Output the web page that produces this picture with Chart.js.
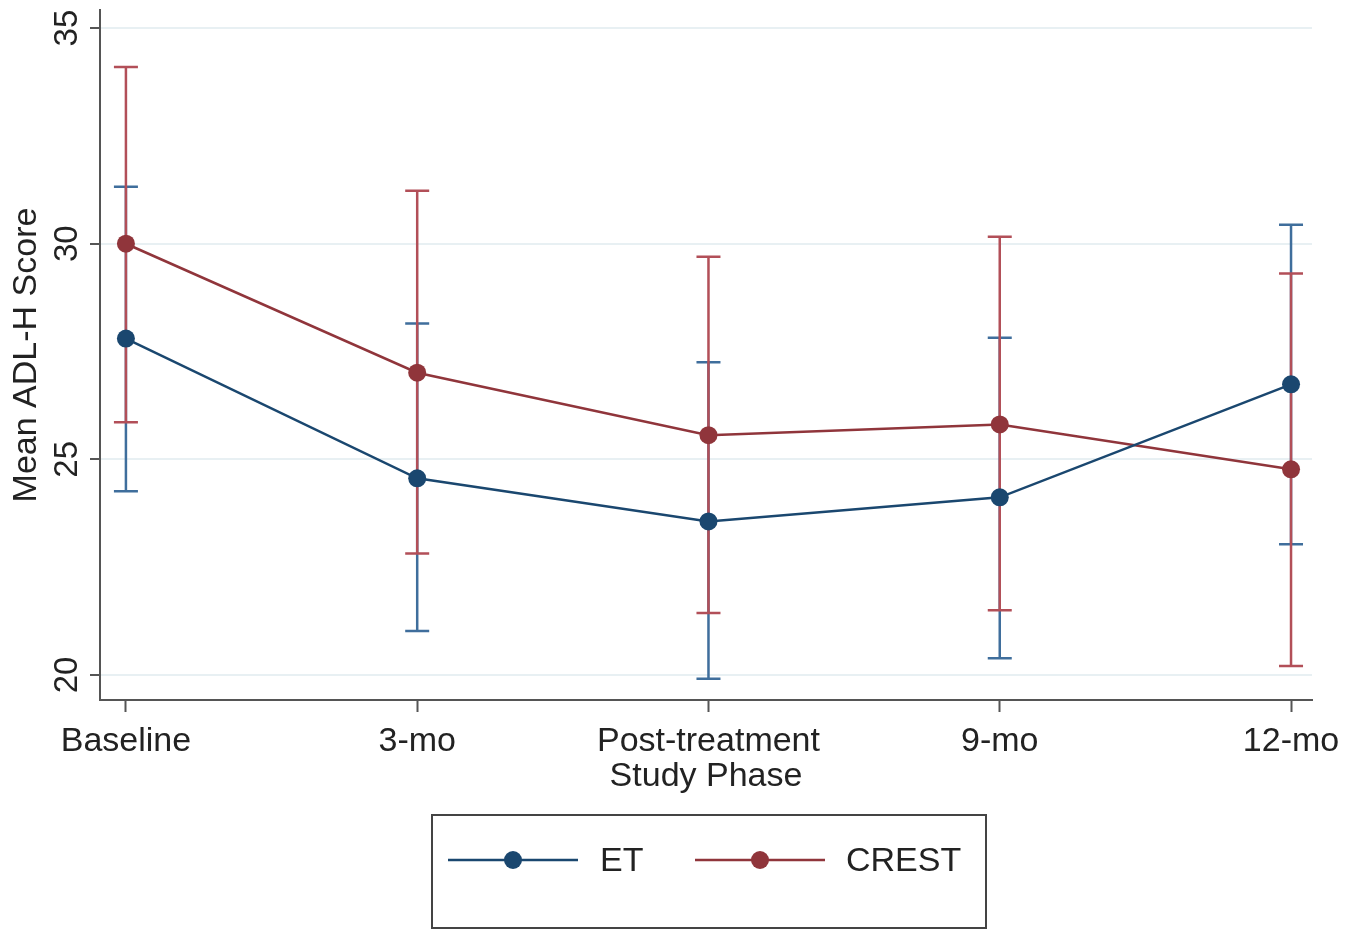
<!DOCTYPE html>
<html>
<head>
<meta charset="utf-8">
<script src="https://cdn.jsdelivr.net/npm/chart.js@4"></script>
<style>
  html, body { margin: 0; padding: 0; background: #fff; }
  #wrap { width: 1362px; height: 931px; }
</style>
</head>
<body>
<div id="wrap"><canvas id="chart" width="1362" height="931"></canvas></div>
<script>
// dados
const fases = ["Baseline", "3-mo", "Post-treatment", "9-mo", "12-mo"];
const yTicks = [20, 25, 30, 35];

const etMean = [27.8, 24.56, 23.56, 24.12, 26.74];
const etLow  = [24.26, 21.02, 19.91, 20.39, 23.03];
const etHigh = [31.32, 28.15, 27.25, 27.82, 30.44];

const crMean = [30.0, 27.01, 25.56, 25.81, 24.77];
const crLow  = [25.86, 22.82, 21.44, 21.5, 20.21];
const crHigh = [34.1, 31.23, 29.7, 30.16, 29.31];

const NAVY = "#1a476f", NAVY_BAR = "#3f6e9c";
const MAROON = "#90353b", MAROON_BAR = "#b24f58";
const FONT = "'Liberation Sans', Arial, sans-serif";

function pts(arr) { return arr.map((v, i) => ({ x: i, y: v })); }

// barras de erro (rcap)
const errorBars = {
  id: "errorBars",
  beforeDatasetsDraw(chart) {
    const { ctx, scales: { x, y } } = chart;
    const sets = [[etLow, etHigh, NAVY_BAR], [crLow, crHigh, MAROON_BAR]];
    ctx.save();
    ctx.lineWidth = 2.5;
    sets.forEach(([lo, hi, col]) => {
      ctx.strokeStyle = col;
      lo.forEach((l, i) => {
        const px = x.getPixelForValue(i);
        const y1 = y.getPixelForValue(l), y2 = y.getPixelForValue(hi[i]);
        ctx.beginPath();
        ctx.moveTo(px, y1); ctx.lineTo(px, y2);
        ctx.moveTo(px - 12, y1); ctx.lineTo(px + 12, y1);
        ctx.moveTo(px - 12, y2); ctx.lineTo(px + 12, y2);
        ctx.stroke();
      });
    });
    ctx.restore();
  }
};

// legenda em caixa, estilo Stata
const boxLegend = {
  id: "boxLegend",
  afterDraw(chart) {
    const ctx = chart.ctx;
    ctx.save();
    ctx.strokeStyle = "#444";
    ctx.lineWidth = 2;
    ctx.strokeRect(432, 815, 554, 113);
    const items = [[448, 600], [695, 846]];
    chart.data.datasets.forEach((ds, k) => {
      const [lx, tx] = items[k];
      const cy = 860;
      ctx.strokeStyle = ds.borderColor;
      ctx.lineWidth = 2.5;
      ctx.beginPath(); ctx.moveTo(lx, cy); ctx.lineTo(lx + 130, cy); ctx.stroke();
      ctx.fillStyle = ds.borderColor;
      ctx.beginPath(); ctx.arc(lx + 65, cy, 9, 0, Math.PI * 2); ctx.fill();
      ctx.fillStyle = "#222";
      ctx.font = "34px " + FONT;
      ctx.textBaseline = "middle";
      ctx.fillText(ds.label, tx, cy + 2);
    });
    ctx.restore();
  }
};

new Chart(document.getElementById("chart"), {
  type: "line",
  data: {
    datasets: [
      { label: "ET", data: pts(etMean), borderColor: NAVY, backgroundColor: NAVY,
        borderWidth: 2.5, pointRadius: 9, pointBackgroundColor: NAVY, pointBorderWidth: 0 },
      { label: "CREST", data: pts(crMean), borderColor: MAROON, backgroundColor: MAROON,
        borderWidth: 2.5, pointRadius: 9, pointBackgroundColor: MAROON, pointBorderWidth: 0 }
    ]
  },
  options: {
    responsive: false,
    animation: false,
    layout: { padding: { left: 0, right: 50, top: 10, bottom: 134 } },
    plugins: { legend: { display: false }, tooltip: { enabled: false } },
    scales: {
      x: {
        type: "linear",
        min: -0.089,
        max: 4.072,
        afterBuildTicks: s => { s.ticks = fases.map((_, i) => ({ value: i })); },
        afterFit: s => { s.height = 97; },
        border: { display: true, color: "#555", width: 2 },
        grid: { drawOnChartArea: false, drawTicks: true, tickLength: 12, tickColor: "#555", tickWidth: 2 },
        ticks: {
          color: "#222", font: { family: FONT, size: 34 }, padding: 9,
          maxRotation: 0, autoSkip: false,
          callback: v => fases[v]
        },
        title: { display: true, text: "Study Phase", color: "#222",
          font: { family: FONT, size: 34 }, padding: { top: 0, bottom: 0 } }
      },
      y: {
        min: 19.42,
        max: 35.42,
        afterBuildTicks: s => { s.ticks = yTicks.map(v => ({ value: v })); },
        afterFit: s => { s.width = 100; s.paddingTop = 0; s.paddingBottom = 0; },
        border: { display: true, color: "#555", width: 2 },
        grid: { color: "#e8f0f3", lineWidth: 2, tickLength: 10, tickColor: "#555", tickWidth: 2 },
        ticks: {
          color: "#222", font: { family: FONT, size: 33 }, padding: 4,
          minRotation: 90, maxRotation: 90, crossAlign: "center"
        },
        title: { display: true, text: "Mean ADL-H Score", color: "#222",
          font: { family: FONT, size: 34 }, padding: { top: 6, bottom: 0 } }
      }
    }
  },
  plugins: [errorBars, boxLegend]
});
</script>
</body>
</html>
